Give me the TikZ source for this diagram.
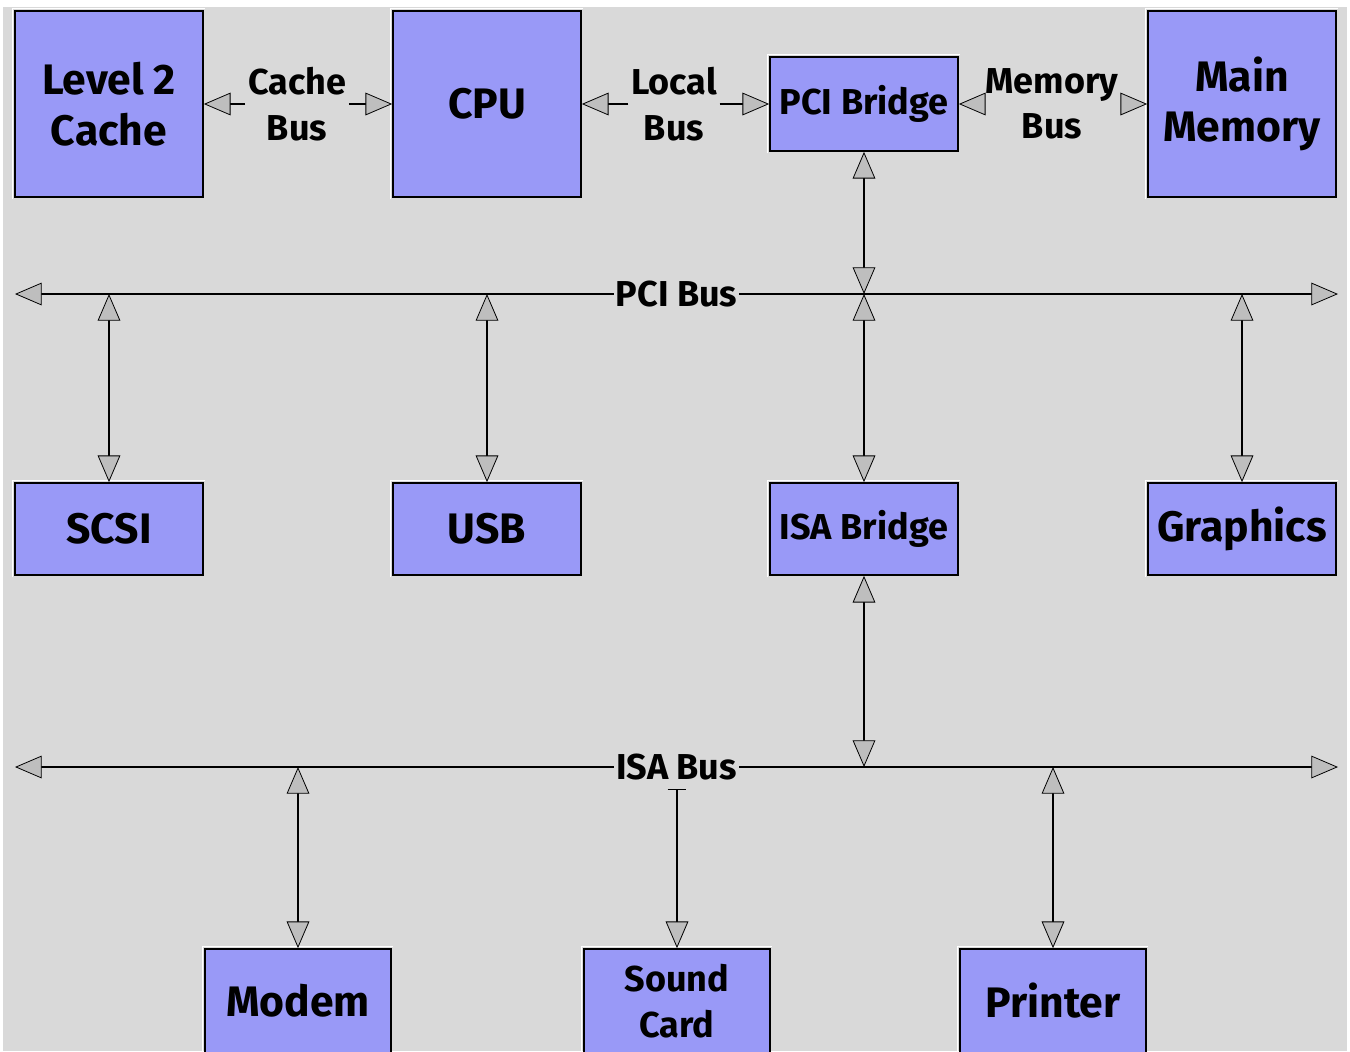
\documentclass[tikz,border=0pt]{standalone}
\usepackage{fontspec}
\setmainfont{Fira Sans}
\usetikzlibrary{arrows.meta}
\definecolor{bg}{RGB}{217,217,217}
\definecolor{boxblue}{RGB}{153,153,247}
\definecolor{arrowgray}{RGB}{190,190,190}
\newcommand{\bigf}{\fontsize{32}{38}\selectfont\bfseries}
\newcommand{\smallf}{\fontsize{27}{34}\selectfont\bfseries}
\tikzset{
  gtip/.tip={Triangle[length=20pt,width=17pt,fill=arrowgray,line width=0.6pt]},
  unit/.style={draw=black, line width=1.3pt, fill=boxblue, minimum width=141pt,
    minimum height=139.5pt, inner sep=0pt, align=center, font=\bigf},
  halfunit/.style={unit, minimum height=69pt},
  conn/.style={draw=black, line width=1.2pt, {gtip}-{gtip}},
  oneway/.style={draw=black, line width=1.2pt, -{gtip}},
  buslabel/.style={fill=bg, inner xsep=1.5pt, inner ysep=2pt, font=\smallf, align=center},
  sidelabel/.style={fill=bg, inner xsep=2pt, inner ysep=1pt, font=\smallf, align=center},
}
\begin{document}
\begin{tikzpicture}[x=0.75pt,y=-0.75pt]
\useasboundingbox (0,0) rectangle (1350,1051);
\fill[white] (0,0) rectangle (1350,1051);
\fill[bg] (3,7) rectangle (1347,1051);

% top row
\node[unit] (l2) at (109,104) {Level 2\\Cache};
\node[unit] (cpu) at (487,104) {CPU};
\node[halfunit, minimum height=70.5pt, font=\smallf] (pcib) at (864,104) {PCI Bridge};
\node[unit] (mem) at (1242,104) {Main\\Memory};

% middle row
\node[halfunit] (scsi) at (109,529) {SCSI};
\node[halfunit] (usb) at (487,529) {USB};
\node[halfunit, font=\smallf] (isab) at (864,529) {ISA Bridge};
\node[halfunit] (gfx) at (1242,529) {Graphics};

% bottom row
\node[halfunit, minimum width=139.5pt, minimum height=78pt] (modem) at (298,1001) {Modem};
\node[halfunit, minimum width=139.5pt, minimum height=78pt, font=\smallf] (sound) at (677,1001) {Sound\\Card};
\node[halfunit, minimum width=139.5pt, minimum height=78pt] (printer) at (1053,1001) {Printer};

% bevel highlights
\foreach \n in {l2,cpu,pcib,mem,scsi,usb,isab,gfx,modem,sound,printer}{
  \draw[white, line width=0.9pt]
    ([xshift=-1.3pt,yshift=-1pt]\n.south west) -- ([xshift=-1.3pt,yshift=1.3pt]\n.north west)
    -- ([xshift=1pt,yshift=1.3pt]\n.north east);
}

% top buses
\node[sidelabel] (cachebus) at (297,104) {Cache\\Bus};
\node[sidelabel] (localbus) at (674,104) {Local\\Bus};
\node[sidelabel] (membus) at (1052,104) {Memory\\Bus};
\draw[oneway] (cachebus.west) -- (l2.east);
\draw[oneway] (cachebus.east) -- (cpu.west);
\draw[oneway] (localbus.west) -- (cpu.east);
\draw[oneway] (localbus.east) -- (pcib.west);
\draw[oneway] (membus.west) -- (pcib.east);
\draw[oneway] (membus.east) -- (mem.west);

% PCI bus
\coordinate (pciL) at (15,294);
\coordinate (pciR) at (1338,294);
\coordinate (pScsi) at (109,294);
\coordinate (pUsb) at (487,294);
\coordinate (pBr) at (864,294);
\coordinate (pGfx) at (1242,294);
\draw[conn] (pScsi) -- (scsi.north);
\draw[conn] (pUsb) -- (usb.north);
\draw[conn] (pcib.south) -- (pBr);
\draw[conn] (pBr) -- (isab.north);
\draw[conn] (pGfx) -- (gfx.north);
\draw[conn] (pciL) -- node[buslabel] (pcilabel) {PCI Bus} (pciR);

% ISA bus
\coordinate (isaL) at (15,767);
\coordinate (isaR) at (1338,767);
\coordinate (iBr) at (864,767);
\coordinate (iModem) at (298,767);
\coordinate (iPrinter) at (1053,767);
\coordinate (iSound) at (677,789);
\draw[conn] (isab.south) -- (iBr);
\draw[conn] (iModem) -- (modem.north);
\draw[conn] (iPrinter) -- (printer.north);
\draw[conn] (isaL) -- node[buslabel, inner ysep=3pt] (isalabel) {ISA Bus} (isaR);
\draw[draw=black, line width=1.2pt, {Bar[width=14pt,line width=0.9pt]}-{gtip}] (iSound) -- (sound.north);
\end{tikzpicture}
\end{document}
